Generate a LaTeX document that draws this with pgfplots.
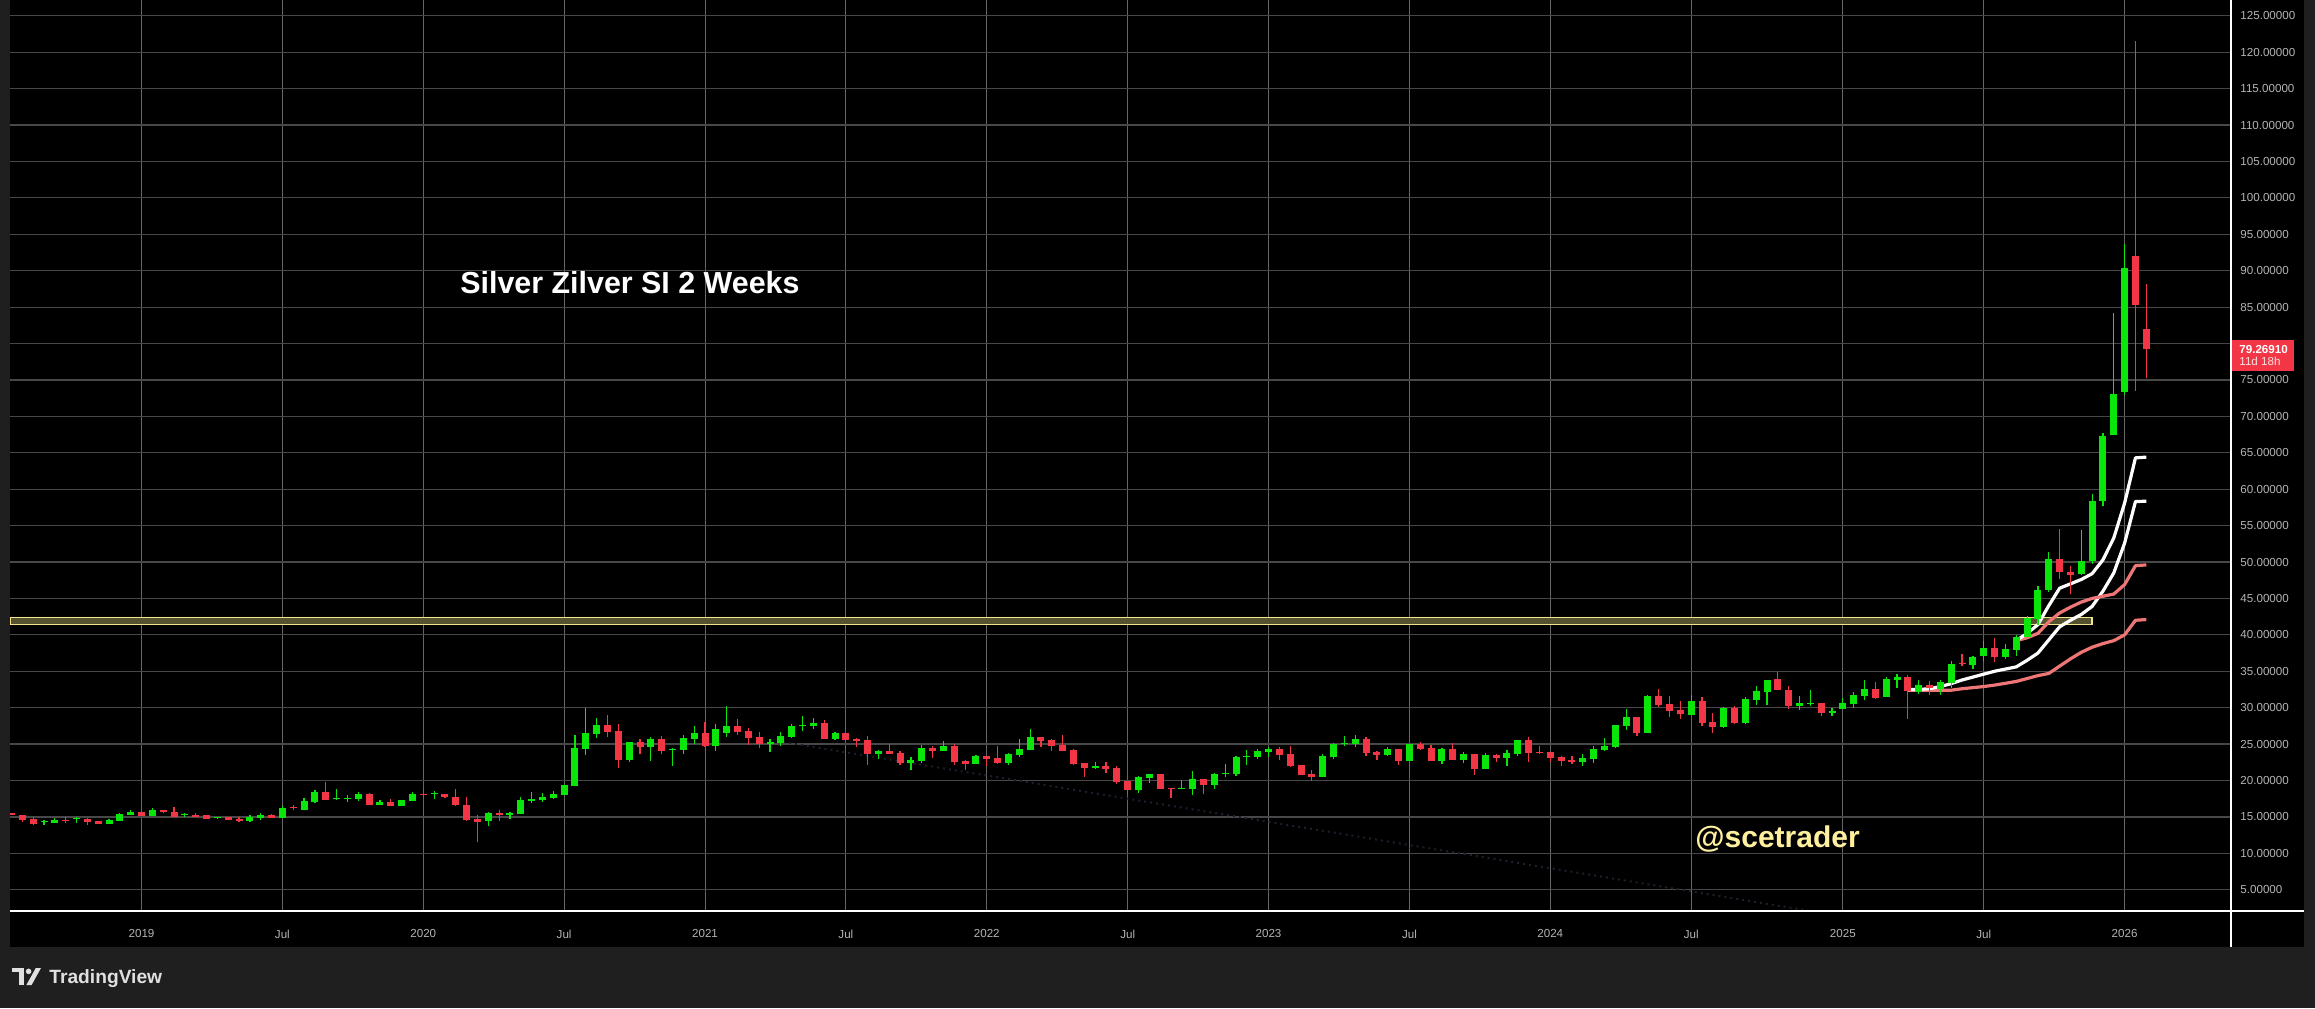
\documentclass[border=0pt]{standalone}
\usepackage{pgfplots}
\pgfplotsset{compat=1.18}
\usepackage{pgfplotstable}
\usepackage{fontspec}
\setmainfont{Liberation Sans}
\definecolor{pagebg}{HTML}{1F1F1F}
\definecolor{cgreen}{HTML}{0AE60A}
\definecolor{cred}{HTML}{F23645}
\definecolor{tickgray}{HTML}{B4B4B4}
\definecolor{hgrid}{HTML}{484848}
\definecolor{vgrid}{HTML}{666666}
\definecolor{bandpink}{HTML}{EE7676}
\definecolor{zonefill}{HTML}{55532F}
\definecolor{zoneedge}{HTML}{F3E48C}
\definecolor{handle}{HTML}{FFF09E}
\definecolor{faint}{HTML}{1A212C}

\pgfplotstableread{
i o h l c
0 15.50 15.60 15.20 15.20
1 15.32 15.32 14.35 14.63
2 14.77 14.95 13.94 14.07
3 14.30 14.60 13.94 14.42
4 14.20 14.90 14.20 14.63
5 14.60 14.95 14.20 14.46
6 14.68 15.05 14.20 14.82
7 14.77 14.80 13.94 14.35
8 14.50 14.50 14.07 14.07
9 14.07 14.77 14.07 14.63
10 14.50 15.50 14.50 15.46
11 15.32 15.88 15.30 15.74
12 15.74 15.80 15.19 15.19
13 15.19 16.16 15.19 15.88
14 15.88 15.90 15.50 15.74
15 15.74 16.30 15.00 15.05
16 15.20 15.60 15.05 15.34
17 15.32 15.60 15.00 15.05
18 15.20 15.32 14.77 14.77
19 14.90 15.05 14.77 15.04
20 15.05 15.05 14.63 14.63
21 14.77 14.95 14.35 14.50
22 14.50 15.20 14.35 15.05
23 14.90 15.60 14.63 15.32
24 15.32 15.46 14.90 14.90
25 14.90 16.48 14.90 16.16
26 16.30 16.70 15.90 16.16
27 16.00 17.55 16.00 17.13
28 16.99 18.66 16.85 18.38
29 18.38 19.80 17.27 17.27
30 17.40 18.80 17.27 17.55
31 17.40 17.96 16.99 17.55
32 17.40 18.38 17.13 18.10
33 18.10 18.24 16.70 16.70
34 16.70 17.27 16.70 16.99
35 16.99 17.40 16.44 16.44
36 16.44 17.27 16.44 17.27
37 17.13 18.38 17.13 18.10
38 18.10 18.90 17.80 17.96
39 18.10 18.50 17.40 18.24
40 18.10 18.10 17.55 17.70
41 17.80 18.90 16.44 16.57
42 16.70 17.70 14.50 14.63
43 14.77 15.32 11.57 14.35
44 14.38 15.62 13.82 15.48
45 15.48 15.90 14.50 15.20
46 15.20 15.62 14.65 15.48
47 15.35 17.70 15.35 17.28
48 17.14 18.40 16.87 17.42
49 17.28 18.25 17.00 17.70
50 17.56 18.50 17.42 18.10
51 17.97 19.35 17.97 19.35
52 19.20 26.27 19.20 24.47
53 24.33 30.00 23.50 26.54
54 26.40 28.60 25.85 27.65
55 27.65 29.03 25.99 26.68
56 26.82 27.79 21.70 22.80
57 22.80 25.30 22.53 25.30
58 25.30 25.70 23.64 24.60
59 24.60 25.99 22.67 25.71
60 25.71 26.13 23.64 24.06
61 24.20 24.47 21.98 24.34
62 24.20 26.27 23.64 25.85
63 25.71 27.51 25.02 26.54
64 26.54 28.06 24.60 24.75
65 24.75 27.79 24.06 27.10
66 26.54 30.27 25.99 27.51
67 27.51 28.48 26.27 26.68
68 26.82 27.23 24.88 25.85
69 25.99 26.68 24.47 25.02
70 25.02 25.71 23.92 25.30
71 25.16 26.68 24.75 26.13
72 25.99 27.79 25.85 27.51
73 27.51 28.89 26.82 27.65
74 27.51 28.60 27.10 27.93
75 27.93 28.34 25.71 25.71
76 25.71 26.68 25.58 26.54
77 26.54 26.54 25.58 25.58
78 25.71 25.85 24.60 25.44
79 25.58 26.13 22.12 23.64
80 23.64 24.20 22.95 24.06
81 24.06 25.02 23.64 23.64
82 23.78 24.06 22.12 22.40
83 22.40 23.23 21.43 22.81
84 22.67 24.88 22.40 24.47
85 24.47 24.75 23.09 24.06
86 24.06 25.44 24.06 24.75
87 24.75 25.02 22.12 22.53
88 22.67 22.81 21.43 22.26
89 22.26 23.50 22.26 23.36
90 23.36 23.36 21.98 22.95
91 23.09 24.75 22.26 22.40
92 22.40 23.78 22.12 23.64
93 23.50 25.71 23.23 24.33
94 24.20 27.10 24.20 25.99
95 25.99 25.99 24.60 25.44
96 25.58 25.71 24.06 24.75
97 24.88 26.27 24.06 24.06
98 24.20 24.33 22.12 22.26
99 22.40 22.40 20.46 21.70
100 21.70 22.53 21.57 21.98
101 21.98 22.53 21.00 21.57
102 21.70 21.98 19.49 19.77
103 19.91 19.91 18.25 18.66
104 18.66 20.60 18.25 20.46
105 20.32 20.88 19.63 20.88
106 20.88 20.88 18.80 18.80
107 18.94 18.94 17.56 18.80
108 18.80 20.05 18.80 18.94
109 18.80 21.29 17.97 20.18
110 20.18 20.18 18.11 19.35
111 19.35 21.01 18.80 20.88
112 20.88 22.26 20.46 21.01
113 20.88 23.36 20.60 23.23
114 23.23 24.20 22.12 23.36
115 23.23 24.33 22.95 24.06
116 23.92 24.60 23.23 24.33
117 24.33 24.60 22.81 23.50
118 23.64 24.75 21.84 21.98
119 22.12 22.12 20.74 20.74
120 20.88 21.43 19.91 20.46
121 20.46 23.64 20.46 23.36
122 23.23 25.16 22.95 25.02
123 25.02 26.13 24.75 25.16
124 25.02 26.27 24.60 25.71
125 25.71 25.99 23.36 23.78
126 23.92 24.06 22.81 23.50
127 23.50 24.60 23.36 24.33
128 24.33 24.33 22.12 22.67
129 22.67 25.02 22.67 25.02
130 25.02 25.30 24.20 24.33
131 24.47 24.88 22.67 22.67
132 22.70 24.50 22.30 24.36
133 24.36 25.18 22.84 22.84
134 22.84 23.94 22.43 23.67
135 23.67 23.67 20.78 21.60
136 21.60 23.80 21.60 23.53
137 23.53 23.67 22.57 23.12
138 23.12 24.22 22.00 23.80
139 23.67 25.60 23.40 25.60
140 25.60 26.00 22.57 23.80
141 23.94 24.77 23.67 23.80
142 23.94 23.94 22.57 23.12
143 23.26 23.40 22.00 22.70
144 22.84 23.40 22.30 22.57
145 22.57 23.67 22.00 23.12
146 23.00 24.77 22.43 24.36
147 24.22 25.87 24.08 24.77
148 24.63 27.66 24.50 27.66
149 27.52 29.86 26.97 28.76
150 28.76 28.76 26.15 26.56
151 26.56 31.79 26.56 31.65
152 31.65 32.60 30.05 30.32
153 30.46 31.65 28.70 29.50
154 29.63 30.87 28.50 29.08
155 28.95 31.80 28.95 30.87
156 30.87 31.40 27.50 27.94
157 28.10 29.30 26.55 27.40
158 27.40 30.10 27.25 30.00
159 30.00 30.20 27.80 27.94
160 27.94 31.50 27.80 31.20
161 31.10 33.00 30.40 32.30
162 32.20 33.80 30.30 33.80
163 33.95 34.90 32.40 32.40
164 32.40 33.00 29.80 30.20
165 30.20 31.60 29.70 30.60
166 30.50 32.45 30.20 30.70
167 30.60 30.70 28.80 29.20
168 29.30 29.90 28.80 29.60
169 29.80 31.30 29.80 30.60
170 30.45 32.10 30.00 31.70
171 31.60 33.75 31.05 32.50
172 32.50 33.50 31.20 31.30
173 31.40 34.20 31.40 34.00
174 33.85 34.60 32.70 34.20
175 34.20 34.50 28.46 32.30
176 32.20 33.80 31.93 33.07
177 33.07 33.67 31.80 32.75
178 32.60 33.80 31.80 33.53
179 33.44 36.42 32.75 36.00
180 36.15 37.39 35.73 36.00
181 35.87 37.10 35.32 36.97
182 37.10 39.17 36.42 38.21
183 38.21 39.59 36.28 36.97
184 36.97 38.76 36.70 38.07
185 37.94 40.00 37.10 39.72
186 39.72 42.60 39.59 42.34
187 42.20 46.74 41.38 46.19
188 46.19 51.42 45.92 50.46
189 50.46 54.59 47.70 48.67
190 48.67 49.50 45.64 48.26
191 48.40 54.45 48.20 50.18
192 50.18 59.40 49.77 58.44
193 58.44 67.66 57.66 67.25
194 67.39 84.17 67.39 73.03
195 73.30 93.67 73.00 90.37
196 92.00 121.50 73.44 85.28
197 81.97 88.17 75.23 79.27
}\candles

\pgfplotstableread{
i wl pl
175 32.50 32.40
176 32.50 32.40
177 32.60 32.40
178 32.90 32.40
179 33.30 32.40
180 33.80 32.60
181 34.20 32.75
182 34.60 32.90
183 35.00 33.10
184 35.30 33.35
185 35.60 33.60
186 36.50 34.00
187 37.50 34.40
188 39.30 34.70
189 41.10 35.70
190 42.00 36.70
191 42.80 37.60
192 43.90 38.30
193 46.00 38.80
194 48.50 39.20
195 52.60 40.00
196 58.30 42.00
197 58.35 42.10
}\bandsA

\pgfplotstableread{
i wu pu
185 39.20 39.20
186 40.20 39.60
187 41.40 40.20
188 44.00 41.80
189 46.40 43.00
190 47.00 43.80
191 47.60 44.50
192 48.40 45.00
193 50.30 45.30
194 53.30 45.60
195 58.10 46.90
196 64.30 49.50
197 64.40 49.60
}\bandsB

\begin{document}
\begin{tikzpicture}
\fill[pagebg] (0,0) rectangle (1157.5pt,504pt);
\fill[black] (5pt,30.5pt) rectangle (1152pt,504pt);
\begin{axis}[
  at={(5pt,48.5pt)}, anchor=south west,
  scale only axis, width=1110.5pt, height=455.5pt,
  xmin=-0.138, xmax=204.82, ymin=2.08, ymax=127.17,
  axis line style={draw=none},
  major tick length=0pt,
  xtick={12,25,38,51,64,77,90,103,116,129,142,155,169,182,195},
  xticklabels={2019,Jul,2020,Jul,2021,Jul,2022,Jul,2023,Jul,2024,Jul,2025,Jul,2026},
  ytick={5,10,...,75,85,90,...,125},
  extra y ticks={80},
  extra y tick labels={},
  yticklabel pos=right,
  scaled y ticks=false,
  /pgf/number format/.cd, fixed, fixed zerofill, precision=5, assume math mode=true, 1000 sep={},
  /pgfplots/.cd,
  tick label style={font=\fontsize{5.8}{7}\selectfont, text=tickgray},
  xticklabel style={anchor=center, yshift=-11.5pt},
  yticklabel style={anchor=west, inner sep=0pt, xshift=4.5pt},
  xmajorgrids, ymajorgrids,
  major x grid style={draw=vgrid, line width=0.5pt},
  major y grid style={draw=hgrid, line width=0.6pt},
  extra y tick style={ymajorgrids=true, major y grid style={draw=hgrid, line width=0.6pt}},
]
% faint drawing line
\addplot[faint, line width=1pt, dotted] coordinates {(71.2,25.29) (166.0,2.08)};
% resistance zone
\addplot[fill=zonefill, draw=zoneedge, line width=0.75pt] coordinates {(-0.138,41.44) (192,41.44) (192,42.40) (-0.138,42.40)} -- cycle;
% bands
\addplot[bandpink, line width=1.6pt, line join=round] table[x=i, y=pl] {\bandsA};
\addplot[white, line width=1.6pt, line join=round] table[x=i, y=wl] {\bandsA};
\addplot[bandpink, line width=1.6pt, line join=round] table[x=i, y=pu] {\bandsB};
\addplot[white, line width=1.6pt, line join=round] table[x=i, y=wu] {\bandsB};
% up candles: wicks and bodies
\addplot[draw=none, mark=none, restrict expr to domain={\thisrow{c}-\thisrow{o}}{0:1000},
  error bars/.cd, y dir=plus, y explicit, error mark=none,
  error bar style={draw=cgreen, line width=0.6pt}]
  table[x=i, y=l, y error plus expr={\thisrow{h}-\thisrow{l}}] {\candles};
\addplot[draw=none, mark=none, restrict expr to domain={\thisrow{c}-\thisrow{o}}{0:1000},
  error bars/.cd, y dir=plus, y explicit, error mark=none,
  error bar style={draw=cgreen, line width=3.5pt}]
  table[x=i, y=o, y error plus expr={\thisrow{c}-\thisrow{o}}] {\candles};
% down candles
\addplot[draw=none, mark=none, restrict expr to domain={\thisrow{c}-\thisrow{o}}{-1000:0},
  error bars/.cd, y dir=plus, y explicit, error mark=none,
  error bar style={draw=cred, line width=0.6pt}]
  table[x=i, y=l, y error plus expr={\thisrow{h}-\thisrow{l}}] {\candles};
\addplot[draw=none, mark=none, restrict expr to domain={\thisrow{c}-\thisrow{o}}{-1000:0},
  error bars/.cd, y dir=plus, y explicit, error mark=none,
  error bar style={draw=cred, line width=3.5pt}]
  table[x=i, y=c, y error plus expr={\thisrow{o}-\thisrow{c}}] {\candles};
\end{axis}
% scale separators
\draw[white, line width=0.8pt] (1115.5pt,30.5pt) -- (1115.5pt,504pt);
\draw[white, line width=0.8pt] (5pt,48.5pt) -- (1152pt,48.5pt);
% texts
\node[anchor=base west, inner sep=0pt, text=white, font=\fontsize{15.2}{18}\selectfont\bfseries] at (230pt,357.35pt) {Silver Zilver SI 2 Weeks};
\node[anchor=base west, inner sep=0pt, text=handle, font=\fontsize{15}{18}\selectfont\bfseries] at (847.5pt,80.5pt) {@scetrader};
% last price label
\fill[cred] (1116pt,318.5pt) rectangle (1147pt,334pt);
\node[anchor=base west, inner sep=0pt, text=white, font=\fontsize{5.8}{7}\selectfont\bfseries] at (1119.5pt,327.4pt) {79.26910};
\node[anchor=base west, inner sep=0pt, text=white!85!cred, font=\fontsize{5.8}{7}\selectfont] at (1119.5pt,321pt) {11d 18h};
% TradingView logo
\fill[white!88!black] (6pt,18pt) rectangle (12pt,20pt);
\fill[white!88!black] (9.5pt,11.5pt) rectangle (12pt,20pt);
\fill[white!88!black] (14.3pt,18.3pt) circle (1.4pt);
\fill[white!88!black] (13.2pt,11.5pt) -- (15.8pt,11.5pt) -- (20.5pt,20pt) -- (17.9pt,20pt) -- cycle;
\node[anchor=base west, inner sep=0pt, text=white!88!black, font=\fontsize{9.6}{11}\selectfont\bfseries] at (24.5pt,12.5pt) {TradingView};
\pgfresetboundingbox
\path[use as bounding box] (0,0) rectangle (1157.5pt,504pt);
\end{tikzpicture}
\end{document}
